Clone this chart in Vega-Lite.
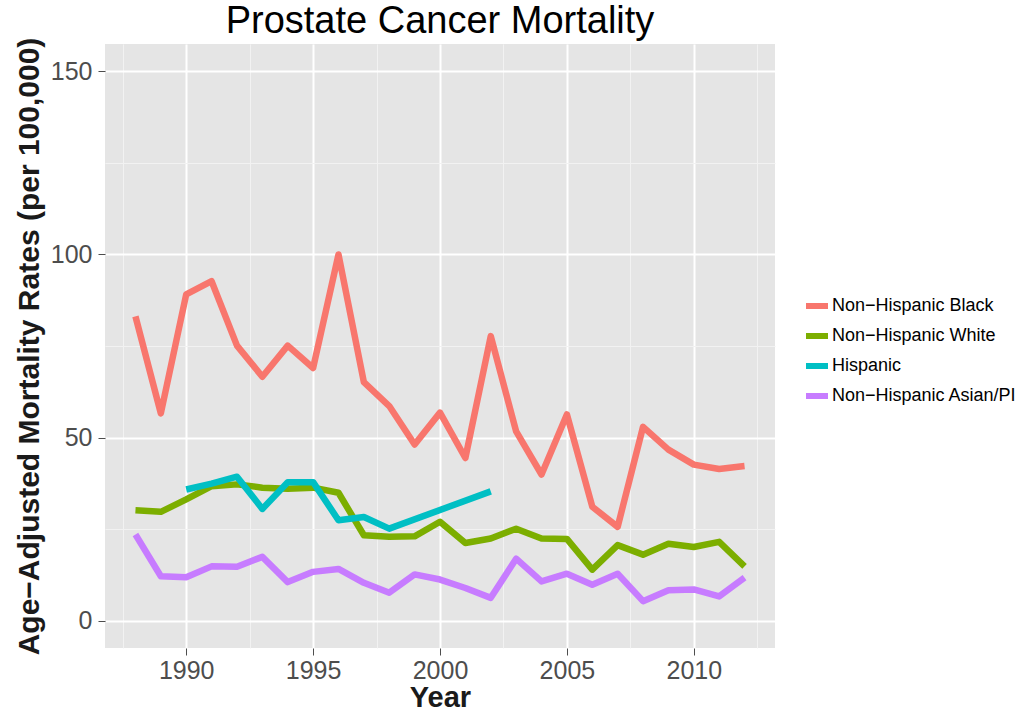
{
  "$schema": "https://vega.github.io/schema/vega-lite/v6.json",
  "width": 670,
  "height": 604,
  "autosize": {"type": "none"},
  "padding": {"left": 105, "top": 44, "right": 250, "bottom": 66},
  "background": "white",
  "title": {"text": "Prostate Cancer Mortality", "fontSize": 38, "font": "Liberation Sans", "fontWeight": "normal", "color": "black", "anchor": "middle", "offset": -4},
  "config": {
    "view": {"fill": "#E5E5E5", "stroke": null},
    "font": "Liberation Sans"
  },
  "data": {"values": [
    {"Year": 1988, "Group": "Non−Hispanic Black", "Rate": 83.1},
    {"Year": 1989, "Group": "Non−Hispanic Black", "Rate": 56.6},
    {"Year": 1990, "Group": "Non−Hispanic Black", "Rate": 89.1},
    {"Year": 1991, "Group": "Non−Hispanic Black", "Rate": 92.7},
    {"Year": 1992, "Group": "Non−Hispanic Black", "Rate": 75.1},
    {"Year": 1993, "Group": "Non−Hispanic Black", "Rate": 66.6},
    {"Year": 1994, "Group": "Non−Hispanic Black", "Rate": 75.1},
    {"Year": 1995, "Group": "Non−Hispanic Black", "Rate": 69.0},
    {"Year": 1996, "Group": "Non−Hispanic Black", "Rate": 100.0},
    {"Year": 1997, "Group": "Non−Hispanic Black", "Rate": 65.1},
    {"Year": 1998, "Group": "Non−Hispanic Black", "Rate": 58.6},
    {"Year": 1999, "Group": "Non−Hispanic Black", "Rate": 48.1},
    {"Year": 2000, "Group": "Non−Hispanic Black", "Rate": 56.8},
    {"Year": 2001, "Group": "Non−Hispanic Black", "Rate": 44.4},
    {"Year": 2002, "Group": "Non−Hispanic Black", "Rate": 77.7},
    {"Year": 2003, "Group": "Non−Hispanic Black", "Rate": 51.7},
    {"Year": 2004, "Group": "Non−Hispanic Black", "Rate": 39.9},
    {"Year": 2005, "Group": "Non−Hispanic Black", "Rate": 56.3},
    {"Year": 2006, "Group": "Non−Hispanic Black", "Rate": 31.1},
    {"Year": 2007, "Group": "Non−Hispanic Black", "Rate": 25.6},
    {"Year": 2008, "Group": "Non−Hispanic Black", "Rate": 52.9},
    {"Year": 2009, "Group": "Non−Hispanic Black", "Rate": 46.7},
    {"Year": 2010, "Group": "Non−Hispanic Black", "Rate": 42.6},
    {"Year": 2011, "Group": "Non−Hispanic Black", "Rate": 41.4},
    {"Year": 2012, "Group": "Non−Hispanic Black", "Rate": 42.2},
    {"Year": 1988, "Group": "Non−Hispanic White", "Rate": 30.1},
    {"Year": 1989, "Group": "Non−Hispanic White", "Rate": 29.7},
    {"Year": 1990, "Group": "Non−Hispanic White", "Rate": 33.1},
    {"Year": 1991, "Group": "Non−Hispanic White", "Rate": 36.7},
    {"Year": 1992, "Group": "Non−Hispanic White", "Rate": 37.2},
    {"Year": 1993, "Group": "Non−Hispanic White", "Rate": 36.3},
    {"Year": 1994, "Group": "Non−Hispanic White", "Rate": 36.0},
    {"Year": 1995, "Group": "Non−Hispanic White", "Rate": 36.3},
    {"Year": 1996, "Group": "Non−Hispanic White", "Rate": 34.9},
    {"Year": 1997, "Group": "Non−Hispanic White", "Rate": 23.3},
    {"Year": 1998, "Group": "Non−Hispanic White", "Rate": 22.9},
    {"Year": 1999, "Group": "Non−Hispanic White", "Rate": 23.0},
    {"Year": 2000, "Group": "Non−Hispanic White", "Rate": 27.0},
    {"Year": 2001, "Group": "Non−Hispanic White", "Rate": 21.2},
    {"Year": 2002, "Group": "Non−Hispanic White", "Rate": 22.4},
    {"Year": 2003, "Group": "Non−Hispanic White", "Rate": 25.1},
    {"Year": 2004, "Group": "Non−Hispanic White", "Rate": 22.4},
    {"Year": 2005, "Group": "Non−Hispanic White", "Rate": 22.3},
    {"Year": 2006, "Group": "Non−Hispanic White", "Rate": 13.9},
    {"Year": 2007, "Group": "Non−Hispanic White", "Rate": 20.6},
    {"Year": 2008, "Group": "Non−Hispanic White", "Rate": 18.0},
    {"Year": 2009, "Group": "Non−Hispanic White", "Rate": 21.0},
    {"Year": 2010, "Group": "Non−Hispanic White", "Rate": 20.1},
    {"Year": 2011, "Group": "Non−Hispanic White", "Rate": 21.5},
    {"Year": 2012, "Group": "Non−Hispanic White", "Rate": 14.8},
    {"Year": 1990, "Group": "Hispanic", "Rate": 35.8},
    {"Year": 1991, "Group": "Hispanic", "Rate": 37.4},
    {"Year": 1992, "Group": "Hispanic", "Rate": 39.3},
    {"Year": 1993, "Group": "Hispanic", "Rate": 30.5},
    {"Year": 1994, "Group": "Hispanic", "Rate": 37.8},
    {"Year": 1995, "Group": "Hispanic", "Rate": 37.8},
    {"Year": 1996, "Group": "Hispanic", "Rate": 27.4},
    {"Year": 1997, "Group": "Hispanic", "Rate": 28.3},
    {"Year": 1998, "Group": "Hispanic", "Rate": 25.1},
    {"Year": 2002, "Group": "Hispanic", "Rate": 35.3},
    {"Year": 1988, "Group": "Non−Hispanic Asian/PI", "Rate": 23.5},
    {"Year": 1989, "Group": "Non−Hispanic Asian/PI", "Rate": 12.1},
    {"Year": 1990, "Group": "Non−Hispanic Asian/PI", "Rate": 11.8},
    {"Year": 1991, "Group": "Non−Hispanic Asian/PI", "Rate": 14.8},
    {"Year": 1992, "Group": "Non−Hispanic Asian/PI", "Rate": 14.7},
    {"Year": 1993, "Group": "Non−Hispanic Asian/PI", "Rate": 17.4},
    {"Year": 1994, "Group": "Non−Hispanic Asian/PI", "Rate": 10.5},
    {"Year": 1995, "Group": "Non−Hispanic Asian/PI", "Rate": 13.3},
    {"Year": 1996, "Group": "Non−Hispanic Asian/PI", "Rate": 14.1},
    {"Year": 1997, "Group": "Non−Hispanic Asian/PI", "Rate": 10.3},
    {"Year": 1998, "Group": "Non−Hispanic Asian/PI", "Rate": 7.6},
    {"Year": 1999, "Group": "Non−Hispanic Asian/PI", "Rate": 12.6},
    {"Year": 2000, "Group": "Non−Hispanic Asian/PI", "Rate": 11.2},
    {"Year": 2001, "Group": "Non−Hispanic Asian/PI", "Rate": 8.9},
    {"Year": 2002, "Group": "Non−Hispanic Asian/PI", "Rate": 6.2},
    {"Year": 2003, "Group": "Non−Hispanic Asian/PI", "Rate": 16.9},
    {"Year": 2004, "Group": "Non−Hispanic Asian/PI", "Rate": 10.7},
    {"Year": 2005, "Group": "Non−Hispanic Asian/PI", "Rate": 12.8},
    {"Year": 2006, "Group": "Non−Hispanic Asian/PI", "Rate": 9.8},
    {"Year": 2007, "Group": "Non−Hispanic Asian/PI", "Rate": 12.8},
    {"Year": 2008, "Group": "Non−Hispanic Asian/PI", "Rate": 5.3},
    {"Year": 2009, "Group": "Non−Hispanic Asian/PI", "Rate": 8.3},
    {"Year": 2010, "Group": "Non−Hispanic Asian/PI", "Rate": 8.5},
    {"Year": 2011, "Group": "Non−Hispanic Asian/PI", "Rate": 6.6},
    {"Year": 2012, "Group": "Non−Hispanic Asian/PI", "Rate": 11.7}
  ]},
  "layer": [
    {
      "mark": {"type": "line", "opacity": 0},
      "encoding": {
        "x": {"field": "Year", "type": "quantitative", "scale": {"domain": [1986.8, 2013.2], "nice": false, "zero": false},
              "axis": {"orient": "bottom", "values": [1987.5, 1992.5, 1997.5, 2002.5, 2007.5, 2012.5], "grid": true, "gridColor": "#F2F2F2", "gridWidth": 1, "labels": false, "ticks": false, "domain": false, "title": null}},
        "y": {"field": "Rate", "type": "quantitative", "scale": {"domain": [-7.5, 157.5], "nice": false, "zero": false},
              "axis": {"orient": "left", "values": [25, 75, 125], "grid": true, "gridColor": "#F2F2F2", "gridWidth": 1, "labels": false, "ticks": false, "domain": false, "title": null}},
        "detail": {"field": "Group"}
      }
    },
    {
      "mark": {"type": "line", "strokeWidth": 6.5, "strokeCap": "butt", "strokeJoin": "round"},
      "encoding": {
        "x": {"field": "Year", "type": "quantitative",
              "axis": {"orient": "bottom", "values": [1990, 1995, 2000, 2005, 2010], "format": "d", "grid": true, "gridColor": "white", "gridWidth": 2, "domain": false,
                       "ticks": true, "tickSize": 7, "tickColor": "#4D4D4D", "tickWidth": 1,
                       "labelFontSize": 25, "labelColor": "#4D4D4D", "labelFont": "Liberation Sans", "labelPadding": 3,
                       "title": "Year", "titleFontSize": 29, "titleFont": "Liberation Sans", "titleFontWeight": "bold", "titleColor": "#1A1A1A", "titlePadding": 0}},
        "y": {"field": "Rate", "type": "quantitative",
              "axis": {"orient": "left", "values": [0, 50, 100, 150], "grid": true, "gridColor": "white", "gridWidth": 2, "domain": false,
                       "ticks": true, "tickSize": 7, "tickColor": "#4D4D4D", "tickWidth": 1,
                       "labelFontSize": 25, "labelColor": "#4D4D4D", "labelFont": "Liberation Sans", "labelPadding": 6,
                       "title": "Age−Adjusted Mortality Rates (per 100,000)", "titleFontSize": 30, "titleFont": "Liberation Sans", "titleFontWeight": "bold", "titleColor": "#1A1A1A", "titlePadding": 6}},
        "color": {"field": "Group", "type": "nominal",
                  "scale": {"domain": ["Non−Hispanic Black", "Non−Hispanic White", "Hispanic", "Non−Hispanic Asian/PI"], "range": ["#F8766D", "#7CAE00", "#00BFC4", "#C77CFF"]},
                  "legend": {"title": null, "orient": "none", "legendX": 698, "legendY": 248, "padding": 0,
                             "symbolType": "stroke", "symbolSize": 484, "symbolStrokeWidth": 6, "rowPadding": 4, "labelOffset": 1,
                             "labelFontSize": 18, "labelFont": "Liberation Sans", "labelColor": "black", "labelLimit": 300}}
      }
    }
  ],
  "resolve": {"axis": {"x": "independent", "y": "independent"}}
}
